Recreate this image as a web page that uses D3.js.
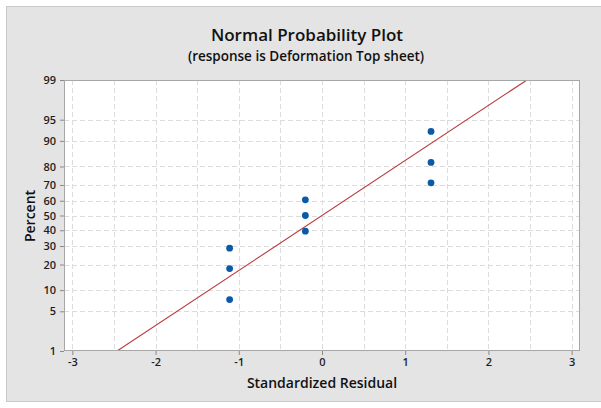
<!DOCTYPE html>
<html>
<head>
<meta charset="utf-8">
<script src="https://cdn.jsdelivr.net/npm/d3@7"></script>
<style>
  html, body { margin: 0; padding: 0; background: #ffffff; }
  svg { display: block; font-family: "Open Sans", "Noto Sans", sans-serif; }
</style>
</head>
<body>
<svg id="chart" width="601" height="408"></svg>
<script>
// Standardized residuals, sorted, and their plotting percentages
const residuals = [-1.11, -1.11, -1.11, -0.20, -0.20, -0.20, 1.31, 1.31, 1.31];
const percents = [7.45, 18.09, 28.72, 39.36, 50.00, 60.64, 71.28, 81.91, 92.55];

// Axis ticks
const xTicks = [-3, -2, -1, 0, 1, 2, 3];
const xGrid = [-3, -2.5, -2, -1.5, -1, -0.5, 0, 0.5, 1, 1.5, 2, 2.5, 3];
const yTicks = [1, 5, 10, 20, 30, 40, 50, 60, 70, 80, 90, 95, 99];

const titleText = "Normal Probability Plot";
const subtitleText = "(response is Deformation Top sheet)";
const xLabel = "Standardized Residual";
const yLabel = "Percent";

// Inverse standard normal CDF (Acklam's rational approximation)
function qnorm(p) {
  const a = [-3.969683028665376e+01, 2.209460984245205e+02, -2.759285104469687e+02,
             1.383577518672690e+02, -3.066479806614716e+01, 2.506628277459239e+00];
  const b = [-5.447609879822406e+01, 1.615858368580409e+02, -1.556989798598866e+02,
             6.680131188771972e+01, -1.328068155288572e+01];
  const c = [-7.784894002430293e-03, -3.223964580411365e-01, -2.400758277161838e+00,
             -2.549732539343734e+00, 4.374664141464968e+00, 2.938163982698783e+00];
  const d = [7.784695709041462e-03, 3.224671290700398e-01, 2.445134137142996e+00,
             3.754408661907416e+00];
  const pl = 0.02425, ph = 1 - pl;
  let q, r;
  if (p < pl) {
    q = Math.sqrt(-2 * Math.log(p));
    return (((((c[0]*q+c[1])*q+c[2])*q+c[3])*q+c[4])*q+c[5]) /
           ((((d[0]*q+d[1])*q+d[2])*q+d[3])*q+1);
  }
  if (p <= ph) {
    q = p - 0.5; r = q * q;
    return (((((a[0]*r+a[1])*r+a[2])*r+a[3])*r+a[4])*r+a[5])*q /
           (((((b[0]*r+b[1])*r+b[2])*r+b[3])*r+b[4])*r+1);
  }
  q = Math.sqrt(-2 * Math.log(1 - p));
  return -(((((c[0]*q+c[1])*q+c[2])*q+c[3])*q+c[4])*q+c[5]) /
          ((((d[0]*q+d[1])*q+d[2])*q+d[3])*q+1);
}

const svg = d3.select("#chart");
const W = 601, H = 408;
const plot = { left: 64, right: 580, top: 80, bottom: 351 };

// Outer frame
svg.append("rect")
  .attr("x", 6.5).attr("y", 6.5)
  .attr("width", W + 10).attr("height", H - 7 - 6)
  .attr("fill", "#e4e4e4")
  .attr("stroke", "#c9c9c9");

// Scales: linear residual axis, normal-probability percent axis
const x = d3.scaleLinear().domain([-3.1, 3.1]).range([plot.left, plot.right]);
const zScale = d3.scaleLinear().domain([qnorm(0.01), qnorm(0.99)]).range([plot.bottom, plot.top]);
const y = p => zScale(qnorm(p / 100));

// Plot area background
svg.append("rect")
  .attr("x", plot.left).attr("y", plot.top)
  .attr("width", plot.right - plot.left).attr("height", plot.bottom - plot.top)
  .attr("fill", "#ffffff");

// Gridlines
const grid = svg.append("g")
  .attr("stroke", "#dcdcdc").attr("stroke-width", 1).attr("stroke-dasharray", "5,3");
grid.selectAll("line.v").data(xGrid).join("line")
  .attr("class", "v")
  .attr("x1", d => Math.round(x(d)) + 0.5).attr("x2", d => Math.round(x(d)) + 0.5)
  .attr("y1", plot.top).attr("y2", plot.bottom);
grid.selectAll("line.h").data(yTicks.filter(t => t !== 1 && t !== 99)).join("line")
  .attr("class", "h")
  .attr("x1", plot.left).attr("x2", plot.right)
  .attr("y1", d => Math.round(y(d)) + 0.5).attr("y2", d => Math.round(y(d)) + 0.5);

// Fitted normal line from the residuals' mean and standard deviation
const mu = d3.mean(residuals);
const sd = d3.deviation(residuals);
const zLo = qnorm(0.01), zHi = qnorm(0.99);
svg.append("defs").append("clipPath").attr("id", "plotClip")
  .append("rect")
  .attr("x", plot.left).attr("y", plot.top)
  .attr("width", plot.right - plot.left).attr("height", plot.bottom - plot.top);
svg.append("line")
  .attr("clip-path", "url(#plotClip)")
  .attr("x1", x(mu + sd * zLo)).attr("y1", zScale(zLo))
  .attr("x2", x(mu + sd * zHi)).attr("y2", zScale(zHi))
  .attr("stroke", "#b83a3a").attr("stroke-width", 1.1);

// Data points
svg.append("g").selectAll("circle")
  .data(residuals.map((r, i) => ({ r, p: percents[i] })))
  .join("circle")
  .attr("cx", d => x(d.r)).attr("cy", d => y(d.p))
  .attr("r", 3.4)
  .attr("fill", "#0a5aa8");

// Plot border
svg.append("rect")
  .attr("x", plot.left + 0.5).attr("y", plot.top + 0.5)
  .attr("width", plot.right - plot.left - 1).attr("height", plot.bottom - plot.top - 1)
  .attr("fill", "none").attr("stroke", "#a6a6a6");

// Axes
const xAxis = d3.axisBottom(x).tickValues(xTicks).tickSize(4).tickPadding(3)
  .tickFormat(d => d < 0 ? "-" + Math.abs(d) : String(d));
const gx = svg.append("g").attr("transform", `translate(0,${plot.bottom})`).call(xAxis);
gx.select(".domain").remove();

const yAxis = d3.axisLeft(zScale).tickValues(yTicks.map(t => qnorm(t / 100)))
  .tickSize(4).tickPadding(4)
  .tickFormat((d, i) => String(yTicks[i]));
const gy = svg.append("g").attr("transform", `translate(${plot.left},0)`).call(yAxis);
gy.select(".domain").remove();

[gx, gy].forEach(g => {
  g.selectAll(".tick line").attr("stroke", "#8a8a8a");
  g.selectAll(".tick text")
    .attr("fill", "#1e1e1e")
    .style("font-family", "'Open Sans', sans-serif")
    .style("font-size", "11px")
    .style("font-weight", "600");
});

// Titles
svg.append("text")
  .attr("x", 307).attr("y", 41)
  .attr("text-anchor", "middle")
  .attr("fill", "#111")
  .style("font-size", "17px").style("font-weight", "600")
  .text(titleText);
svg.append("text")
  .attr("x", 306).attr("y", 61)
  .attr("text-anchor", "middle")
  .attr("fill", "#111")
  .style("font-size", "13.5px").style("font-weight", "600")
  .text(subtitleText);

// Axis titles
svg.append("text")
  .attr("x", 322).attr("y", 388)
  .attr("text-anchor", "middle")
  .attr("fill", "#111")
  .style("font-size", "14px").style("font-weight", "600")
  .text(xLabel);
svg.append("text")
  .attr("transform", "translate(35,216) rotate(-90)")
  .attr("text-anchor", "middle")
  .attr("fill", "#111")
  .style("font-size", "14px").style("font-weight", "600")
  .text(yLabel);
</script>
</body>
</html>
